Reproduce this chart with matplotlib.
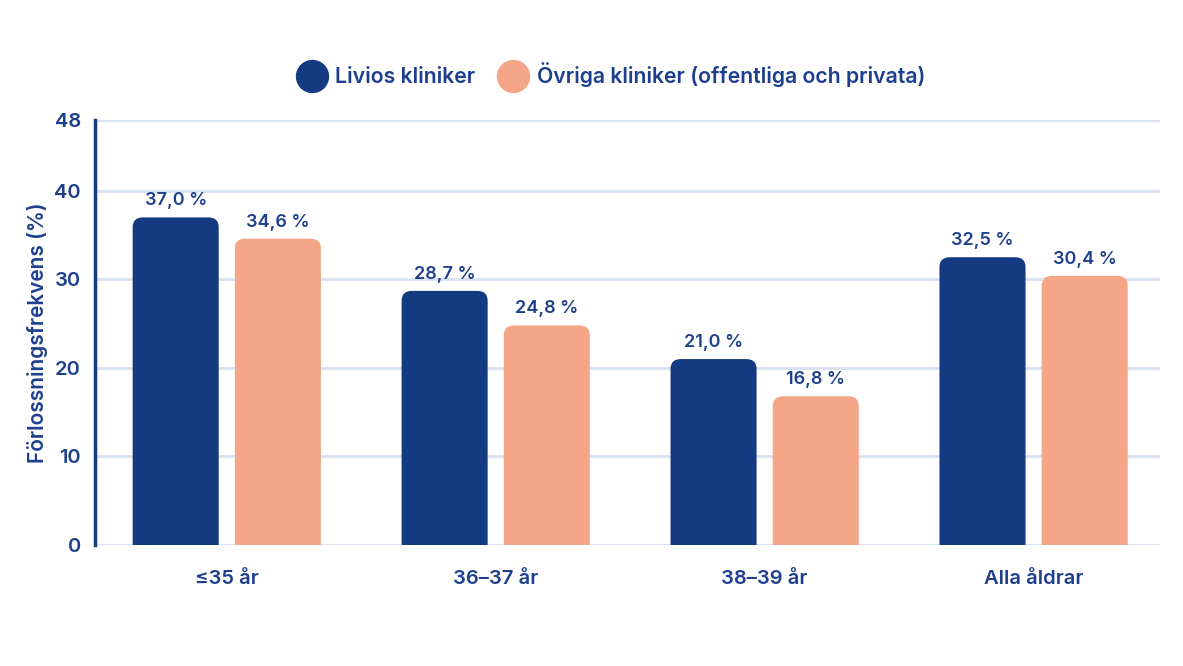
import matplotlib.pyplot as plt
from matplotlib.patches import FancyBboxPatch
from matplotlib.lines import Line2D
import numpy as np

# data
categories = ['≤35 år', '36–37 år', '38–39 år', 'Alla åldrar']
livios = [37.0, 28.7, 21.0, 32.5]
ovriga = [34.6, 24.8, 16.8, 30.4]
series_names = ['Livios kliniker', 'Övriga kliniker (offentliga och privata)']
yticks = [0, 10, 20, 30, 40, 48]

BLUE = '#143A82'
ORANGE = '#F5A688'
TEXT = '#1E3F8E'
GRID = '#D8E1F1'

plt.rcParams['font.family'] = ['Inter', 'DejaVu Sans']

fig = plt.figure(figsize=(11.83, 6.66), dpi=100)
ax = fig.add_axes([95 / 1183, 1 - 545 / 666, (1160 - 95) / 1183, (545 - 120) / 666])

x = np.arange(len(categories))
width = 0.32
offset = 0.19

bars_a = ax.bar(x - offset, livios, width, color=BLUE, alpha=0)
bars_b = ax.bar(x + offset, ovriga, width, color=ORANGE, alpha=0)

# rounded tops: boxes extend below 0 so the bottom corners get clipped square
r_x = 0.038
aspect = 1.1 / 0.038
for bars, color in [(bars_a, BLUE), (bars_b, ORANGE)]:
    for b in bars:
        bx, bw, bh = b.get_x(), b.get_width(), b.get_height()
        p = FancyBboxPatch((bx, -3), bw, bh + 3,
                           boxstyle=f'round,pad=0,rounding_size={r_x}',
                           mutation_aspect=aspect, facecolor=color,
                           edgecolor='none', zorder=3)
        ax.add_patch(p)
        ax.text(bx + bw / 2, bh + 0.9, f'{bh:.1f} %'.replace('.', ','),
                ha='center', va='bottom', fontsize=13, fontweight='semibold',
                color=TEXT, zorder=4)

ax.set_xlim(-0.49, 3.47)
ax.set_ylim(0, 48)
ax.set_yticks(yticks)
ax.set_xticks(x)
ax.set_xticklabels(categories)
ax.yaxis.grid(True, color=GRID, lw=2, zorder=0)
ax.set_axisbelow(True)

for s in ['top', 'right', 'bottom']:
    ax.spines[s].set_visible(False)
ax.spines['left'].set_color(BLUE)
ax.spines['left'].set_linewidth(2.5)

ax.tick_params(axis='both', length=0, colors=TEXT, labelsize=14.5)
ax.tick_params(axis='y', pad=10)
ax.tick_params(axis='x', pad=18)
for lab in ax.get_xticklabels() + ax.get_yticklabels():
    lab.set_fontweight('semibold')

ax.set_ylabel('Förlossningsfrekvens (%)', fontsize=15, fontweight='semibold',
              color=TEXT, labelpad=5)

handles = [Line2D([], [], marker='o', ls='none', markersize=23, color=BLUE),
           Line2D([], [], marker='o', ls='none', markersize=23, color=ORANGE)]
leg = fig.legend(handles, series_names, loc='center', ncol=2,
                 bbox_to_anchor=(612 / 1183, 1 - 75 / 666), frameon=False,
                 prop={'size': 15.3, 'weight': 'semibold'}, handletextpad=0.5,
                 columnspacing=1.2, handlelength=1.2)
for t in leg.get_texts():
    t.set_color(TEXT)

fig.savefig('out.png', dpi=100, facecolor='white')
